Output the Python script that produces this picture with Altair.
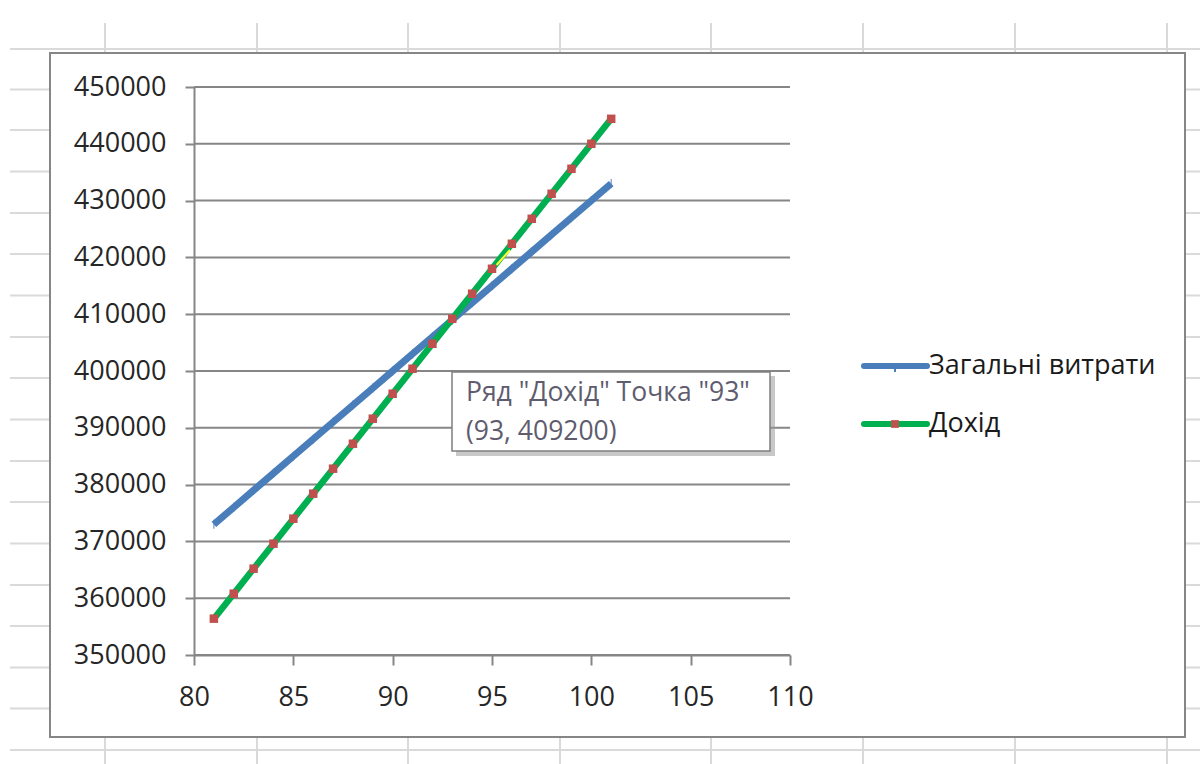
import altair as alt
import pandas as pd

# ---------------- data ----------------
quantity = [81, 82, 83, 84, 85, 86, 87, 88, 89, 90, 91, 92, 93, 94, 95, 96, 97, 98, 99, 100, 101]
total_costs = [373000, 376000, 379000, 382000, 385000, 388000, 391000, 394000, 397000, 400000,
               403000, 406000, 409000, 412000, 415000, 418000, 421000, 424000, 427000, 430000, 433000]
revenue = [356400, 360800, 365200, 369600, 374000, 378400, 382800, 387200, 391600, 396000,
           400400, 404800, 409200, 413600, 418000, 422400, 426800, 431200, 435600, 440000, 444400]
series_names = ["Загальні витрати", "Дохід"]
x_ticks = [80, 85, 90, 95, 100, 105, 110]
y_ticks = [350000, 360000, 370000, 380000, 390000, 400000, 410000, 420000, 430000, 440000, 450000]
tooltip_point = (93, 409200)
highlight_x = [95.23, 95.9]
highlight_y = [418660, 421300]

# ---------------- layout (pixels) ----------------
W, H = 596, 568
OX, OY = 194, 87
FONT = "Open Sans"
GRAY = "#868686"
BLUE = "#4a7ebb"
GREEN = "#00b050"
RED = "#c0504d"

sheet_cols = [105, 257, 408, 560, 711, 863, 1015, 1167]
sheet_rows = [49, 89.5, 130, 171.5, 213, 254, 295.5, 337, 378, 419.5, 461, 502,
              543.5, 585, 626, 667.5, 708.5, 750]

dummy = pd.DataFrame({"a": [0]})
df = pd.DataFrame({"q": quantity, "cost": total_costs, "rev": revenue})
xs = alt.Scale(domain=[80, 110], nice=False, zero=False)
ys = alt.Scale(domain=[350000, 450000], nice=False, zero=False)

x_axis = alt.Axis(values=x_ticks, grid=False, title=None, tickSize=10, tickWidth=2,
                  tickColor=GRAY, domainColor=GRAY, domainWidth=2,
                  labelFont=FONT, labelFontSize=27, labelColor="#262626",
                  labelPadding=19, zindex=1, labelFlush=False)
y_axis = alt.Axis(values=y_ticks, grid=False, title=None, tickSize=9, tickWidth=2,
                  tickColor=GRAY, domainColor=GRAY, domainWidth=2,
                  labelFont=FONT, labelFontSize=27, labelColor="#262626",
                  labelPadding=19, zindex=1, format="d", labelFlush=False)

layers = []
# spreadsheet grid behind the chart
for c in sheet_cols:
    layers.append(alt.Chart(dummy).mark_rule(color="#dadada", strokeWidth=2).encode(
        x=alt.value(c - OX), y=alt.value(23 - OY), y2=alt.value(764 - OY)))
for r in sheet_rows:
    layers.append(alt.Chart(dummy).mark_rule(color="#dadada", strokeWidth=2).encode(
        y=alt.value(r - OY), x=alt.value(10 - OX), x2=alt.value(1200 - OX)))

# chart area box
layers.append(alt.Chart(dummy).mark_rect(fill="white", stroke=GRAY, strokeWidth=2).encode(
    x=alt.value(50 - OX), x2=alt.value(1185 - OX), y=alt.value(53 - OY), y2=alt.value(737 - OY)))

# horizontal gridlines (carries the y axis)
grid_df = pd.DataFrame({"v": y_ticks})
layers.append(alt.Chart(grid_df).mark_rule(color=GRAY, strokeWidth=2).encode(
    y=alt.Y("v:Q", scale=ys, axis=y_axis), x=alt.value(0), x2=alt.value(W)))

# series
base = alt.Chart(df)
layers.append(base.mark_line(color=BLUE, strokeWidth=7).encode(
    x=alt.X("q:Q", scale=xs, axis=x_axis),
    y=alt.Y("cost:Q", scale=ys, axis=y_axis)))
layers.append(base.mark_tick(color=BLUE, orient="vertical", size=9, thickness=1.2, opacity=0.8).encode(
    x=alt.X("q:Q", scale=xs), y=alt.Y("cost:Q", scale=ys)))
layers.append(base.mark_line(color=GREEN, strokeWidth=6.5).encode(
    x=alt.X("q:Q", scale=xs), y=alt.Y("rev:Q", scale=ys)))
layers.append(base.mark_square(color=RED, size=72, opacity=1).encode(
    x=alt.X("q:Q", scale=xs), y=alt.Y("rev:Q", scale=ys)))

hl = pd.DataFrame({"hx": highlight_x, "hy": highlight_y})
layers.append(alt.Chart(hl).mark_line(color="#ffff33", strokeWidth=2).encode(
    x=alt.X("hx:Q", scale=xs), y=alt.Y("hy:Q", scale=ys)))

# custom legend
leg_y = [366 - OY, 424 - OY]
colors = [BLUE, GREEN]
for i, name in enumerate(series_names):
    layers.append(alt.Chart(dummy).mark_rule(color=colors[i], strokeWidth=6, strokeCap="round").encode(
        x=alt.value(864 - OX), x2=alt.value(927 - OX), y=alt.value(leg_y[i])))
    layers.append(alt.Chart(pd.DataFrame({"t": [name]})).mark_text(
        align="left", baseline="middle", font=FONT, fontSize=27, color="#1a1a1a").encode(
        text="t:N", x=alt.value(929 - OX), y=alt.value(leg_y[i])))
layers.append(alt.Chart(dummy).mark_rule(color=BLUE, strokeWidth=2).encode(
    x=alt.value(895 - OX), y=alt.value(leg_y[0]), y2=alt.value(leg_y[0] + 6)))
layers.append(alt.Chart(dummy).mark_square(color=RED, size=60, opacity=1).encode(
    x=alt.value(895 - OX), y=alt.value(leg_y[1])))

# tooltip
layers.append(alt.Chart(dummy).mark_rect(fill="#9a9a9a", opacity=0.55).encode(
    x=alt.value(456 - OX), x2=alt.value(775 - OX), y=alt.value(376 - OY), y2=alt.value(456 - OY)))
layers.append(alt.Chart(dummy).mark_rect(fill="white", stroke="#7f7f7f", strokeWidth=1.5).encode(
    x=alt.value(452 - OX), x2=alt.value(770 - OX), y=alt.value(372 - OY), y2=alt.value(451 - OY)))
tip_lines = [f'Ряд "{series_names[1]}" Точка "{tooltip_point[0]}"',
             f'({tooltip_point[0]}, {tooltip_point[1]})']
tip_y = [393 - OY, 432 - OY]
for t, yy in zip(tip_lines, tip_y):
    layers.append(alt.Chart(pd.DataFrame({"t": [t]})).mark_text(
        align="left", baseline="middle", font=FONT, fontSize=26.5, color="#5e5c6e").encode(
        text="t:N", x=alt.value(466 - OX), y=alt.value(yy)))

chart = alt.layer(*layers).properties(
    width=W, height=H,
    autosize=alt.AutoSizeParams(type="none"),
    padding={"left": OX, "top": OY, "right": 1200 - OX - W, "bottom": 764 - OY - H},
    background="white",
).configure_view(stroke=None)

chart.save("out.html", embed_options={"renderer": "svg", "actions": False})
